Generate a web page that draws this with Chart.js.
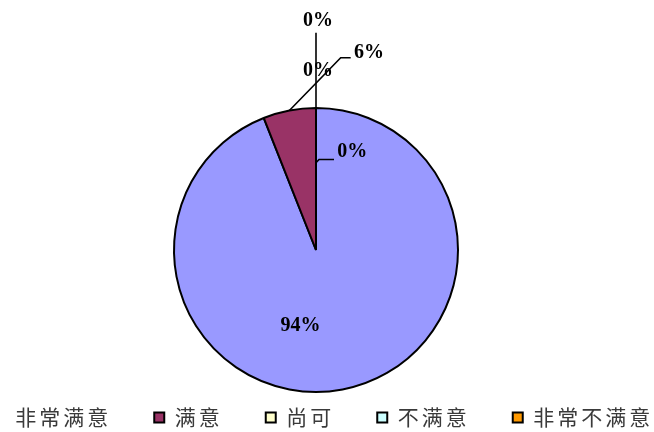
<!DOCTYPE html>
<html>
<head>
<meta charset="utf-8">
<script src="https://cdn.jsdelivr.net/npm/chart.js@4"></script>
<style>
html,body{margin:0;padding:0;background:#ffffff;}
#c{display:block;}
</style>
</head>
<body>
<canvas id="c" width="654" height="432"></canvas>
<script>
// ---- data ----
const categories = ['非常满意', '满意', '尚可', '不满意', '非常不满意'];
const values = [94, 6, 0, 0, 0];
const sliceColors = ['#9999FF', '#993366', '#FFFFCC', '#CCFFFF', '#FF9900'];
const legendMarkerVisible = [false, true, true, true, true];

// ---- label placement (offsets from the slice's outer mid-point) ----
const labelLayout = [
  { text: [-42, -64], align: 'center', line: null },
  { text: [64.6, -57.7], align: 'left', line: [[0, 0], [51.3, -52.7], [61.3, -52.7]] },
  { text: [2, -86.8], align: 'center', line: [[0, 0], [0, -75.2]] },
  { text: [2, -37], align: 'center', line: null },
  { text: [21.3, 44], align: 'left', line: [[0, 54.8], [3, 51.5], [18, 51.5]] }
];

const total = values.reduce((a, b) => a + b, 0);
const pctLabels = values.map(v => Math.round(v / total * 100) + '%');

const LEGEND_SPACING = '3px';
const LEGEND_SHIFT = 69;
const legendTweaks = {
  id: 'legendTweaks',
  beforeLayout(chart) { chart.ctx.letterSpacing = LEGEND_SPACING; },
  afterLayout(chart) {
    chart.ctx.letterSpacing = '0px';
    const lg = chart.legend;
    if (lg) { lg.left += LEGEND_SHIFT; lg.right += LEGEND_SHIFT; }
  },
  beforeDraw(chart) { chart.ctx.letterSpacing = LEGEND_SPACING; },
  beforeDatasetsDraw(chart) { chart.ctx.letterSpacing = '0px'; }
};

const pieLabels = {
  id: 'pieLabels',
  afterDatasetsDraw(chart) {
    const ctx = chart.ctx;
    const meta = chart.getDatasetMeta(0);
    ctx.save();
    ctx.letterSpacing = '0px';
    meta.data.forEach((arc, i) => {
      const p = arc.getProps(['x', 'y', 'startAngle', 'endAngle', 'outerRadius'], true);
      const mid = (p.startAngle + p.endAngle) / 2;
      const ax = p.x + Math.cos(mid) * p.outerRadius;
      const ay = p.y + Math.sin(mid) * p.outerRadius;
      const L = labelLayout[i];
      if (L.line) {
        ctx.beginPath();
        L.line.forEach((pt, k) => {
          if (k === 0) ctx.moveTo(ax + pt[0], ay + pt[1]);
          else ctx.lineTo(ax + pt[0], ay + pt[1]);
        });
        ctx.strokeStyle = '#000000';
        ctx.lineWidth = 1.6;
        ctx.stroke();
      }
      ctx.font = 'bold 20px "Liberation Serif", "Times New Roman", serif';
      ctx.fillStyle = '#000000';
      ctx.textAlign = L.align;
      ctx.textBaseline = 'middle';
      ctx.fillText(pctLabels[i], ax + L.text[0], ay + L.text[1]);
    });
    ctx.restore();
  }
};

new Chart(document.getElementById('c'), {
  type: 'pie',
  data: {
    labels: categories,
    datasets: [{
      data: values,
      backgroundColor: sliceColors,
      borderColor: '#000000',
      borderWidth: 2,
      radius: 142,
      clip: false
    }]
  },
  options: {
    responsive: false,
    animation: false,
    events: [],
    layout: { padding: { left: -122, right: 22, top: 136, bottom: -6 } },
    plugins: {
      tooltip: { enabled: false },
      title: { display: false },
      legend: {
        display: true,
        position: 'bottom',
        align: 'center',
        labels: {
          boxWidth: 10,
          boxHeight: 10,
          padding: 43,
          color: '#3a3a3a',
          font: { family: '"Noto Sans CJK SC", "Noto Sans CJK JP", sans-serif', size: 21, weight: 'normal' },
          generateLabels() {
            return categories.map((c, i) => ({
              text: c,
              fillStyle: legendMarkerVisible[i] ? sliceColors[i] : 'rgba(0,0,0,0)',
              strokeStyle: legendMarkerVisible[i] ? '#000000' : 'rgba(0,0,0,0)',
              lineWidth: legendMarkerVisible[i] ? 2 : 0,
              fontColor: '#3a3a3a',
              hidden: false,
              index: i
            }));
          }
        }
      }
    }
  },
  plugins: [legendTweaks, pieLabels]
});
</script>
</body>
</html>
